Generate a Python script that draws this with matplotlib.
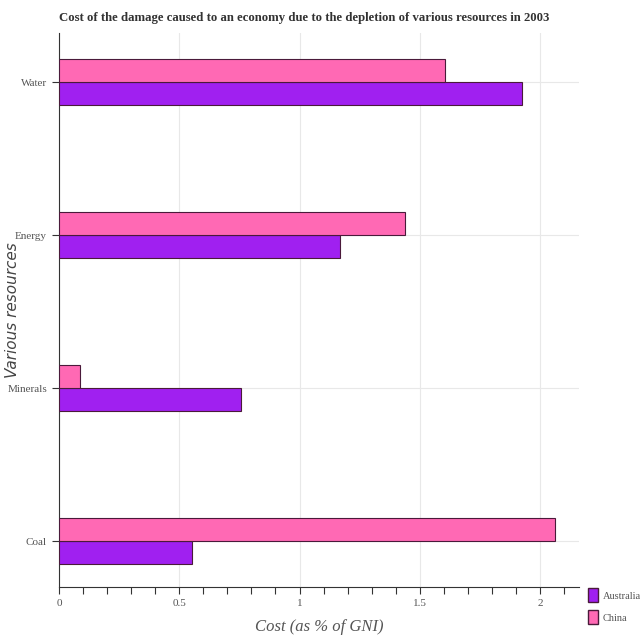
import matplotlib.pyplot as plt
import numpy as np
from matplotlib.patches import Patch
from matplotlib.ticker import MultipleLocator

resources = ['Coal', 'Minerals', 'Energy', 'Water']
australia = [0.555, 0.755, 1.17, 1.925]
china = [2.063, 0.086, 1.4375, 1.605]

purple = '#a020f0'
pink = '#ff69b4'
edge = '#4a1a3a'


def main():
    fig = plt.figure(figsize=(6.4, 6.4), dpi=100)
    ax = fig.add_axes([0.092, 0.083, 0.813, 0.865])

    y = np.arange(len(resources))
    h = 0.15
    ax.barh(y - h / 2, australia, height=h, color=purple, edgecolor=edge, linewidth=0.8, zorder=3)
    ax.barh(y + h / 2, china, height=h, color=pink, edgecolor=edge, linewidth=0.8, zorder=3)

    ax.set_xlim(0, 2.162)
    ax.set_ylim(-0.3, 3.32)
    ax.set_yticks(y)
    ax.set_yticklabels(resources)
    ax.xaxis.set_minor_locator(MultipleLocator(0.1))
    ax.set_xticks([0, 0.5, 1, 1.5, 2])
    ax.set_xticklabels(['0', '0.5', '1', '1.5', '2'])

    ax.grid(True, color='#e8e8e8', linewidth=0.8, zorder=0)
    for s in ['top', 'right']:
        ax.spines[s].set_visible(False)
    ax.spines['left'].set_color('#333333')
    ax.spines['bottom'].set_color('#333333')

    ax.tick_params(axis='both', which='both', direction='out', length=5, width=0.8,
                   colors='#333333', labelcolor='#555555', labelsize=8)
    for lab in ax.get_xticklabels() + ax.get_yticklabels():
        lab.set_family('Liberation Serif')

    fig.text(0.092, 0.972, 'Cost of the damage caused to an economy due to the depletion of various resources in 2003',
             family='Liberation Serif', weight='bold', fontsize=9.2, color='#333333', va='center')
    ax.set_xlabel('Cost (as % of GNI)', family='Liberation Serif', style='italic',
                  fontsize=12, color='#555555', labelpad=8)
    fig.text(0.02, 0.515, 'Various resources', family='DejaVu Sans', style='italic',
             fontsize=11, color='#444444', rotation=90, ha='center', va='center')

    handles = [Patch(facecolor=purple, edgecolor=edge, label='Australia'),
               Patch(facecolor=pink, edgecolor=edge, label='China')]
    fig.legend(handles=handles, loc='lower left', bbox_to_anchor=(0.912, 0.018),
               frameon=False, prop={'family': 'Liberation Serif', 'size': 7.5},
               handlelength=1.0, handleheight=1.7, handletextpad=0.4,
               borderpad=0.2, borderaxespad=0.2, labelspacing=0.75, labelcolor='#555555')

    fig.savefig('out.png')


if __name__ == "__main__":
    main()
